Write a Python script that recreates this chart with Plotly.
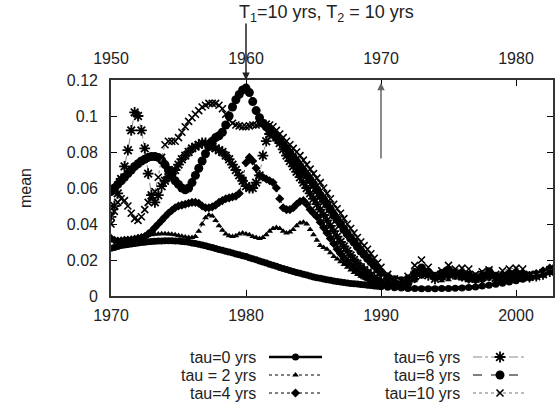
import plotly.graph_objects as go

# ---------------- data ----------------
years = [1970 + 0.25 * i for i in range(81)] + [1990.5 + 0.5 * i for i in range(26)]

tau0 = [0.0265, 0.027, 0.0275, 0.028, 0.0283, 0.0286, 0.0289, 0.0292, 0.0295, 0.0297, 0.0299, 0.0301,
        0.0303, 0.0304, 0.0305, 0.0306, 0.0307, 0.0307, 0.0307, 0.0306, 0.0305, 0.0303, 0.0301, 0.0298,
        0.0295, 0.0291, 0.0287, 0.0283, 0.0279, 0.0274, 0.0269, 0.0264, 0.0259, 0.0254, 0.0249, 0.0244,
        0.0239, 0.0234, 0.0229, 0.0224, 0.0219, 0.0213, 0.0207, 0.0201, 0.0195, 0.0189, 0.0183, 0.0177,
        0.0171, 0.0165, 0.0159, 0.0153, 0.0147, 0.0141, 0.0136, 0.0131, 0.0126, 0.0121, 0.0116, 0.0111,
        0.0106, 0.0102, 0.0098, 0.0094, 0.0090, 0.0087, 0.0084, 0.0081, 0.0078, 0.0075, 0.0072, 0.0070,
        0.0068, 0.0066, 0.0064, 0.0062, 0.0060, 0.0058, 0.0056, 0.0054, 0.0052,
        0.0049, 0.0046, 0.0044, 0.0042, 0.0041, 0.0040, 0.0040, 0.0040, 0.0041, 0.0042, 0.0043, 0.0045,
        0.0047, 0.0050, 0.0055, 0.0060, 0.0065, 0.0071, 0.0078, 0.0085, 0.0093, 0.0103, 0.0115, 0.0127,
        0.0140, 0.0155, 0.0168]

tau2 = [0.031, 0.031, 0.0312, 0.0315, 0.0318, 0.032, 0.0322, 0.0325, 0.0328, 0.033, 0.0333, 0.0336,
        0.034, 0.0343, 0.0345, 0.0346, 0.0346, 0.0345, 0.0343, 0.034, 0.0336, 0.0332, 0.0328, 0.0325,
        0.0325, 0.033, 0.036, 0.040, 0.0435, 0.045, 0.0445, 0.042, 0.039, 0.0365, 0.0345, 0.0335,
        0.033, 0.0335, 0.0345, 0.035, 0.0345, 0.034, 0.033, 0.0325, 0.032, 0.0325, 0.034, 0.036,
        0.0375, 0.038, 0.0375, 0.036, 0.035, 0.0355, 0.037, 0.039, 0.0405, 0.041, 0.040, 0.037,
        0.034, 0.031, 0.028, 0.027, 0.026, 0.024, 0.022, 0.0205, 0.019, 0.0175, 0.016, 0.0145,
        0.013, 0.012, 0.011, 0.010, 0.009, 0.0085, 0.008, 0.0077, 0.0075,
        0.0068, 0.0064, 0.0061, 0.0065, 0.0085, 0.0105, 0.011, 0.0095, 0.0085, 0.009, 0.010, 0.0095,
        0.0085, 0.0082, 0.0085, 0.0095, 0.0092, 0.0085, 0.0085, 0.009, 0.0095, 0.0105, 0.0115, 0.013,
        0.0145, 0.016]

tau4 = [0.032, 0.031, 0.0305, 0.0305, 0.031, 0.031, 0.031, 0.0315, 0.032, 0.0325, 0.033, 0.0345,
        0.036, 0.038, 0.040, 0.042, 0.044, 0.046, 0.0475, 0.049, 0.050, 0.0505, 0.051, 0.0515,
        0.052, 0.052, 0.0515, 0.050, 0.049, 0.049, 0.0495, 0.0505, 0.052, 0.053, 0.054, 0.0545,
        0.055, 0.0555, 0.057, 0.065, 0.074, 0.077, 0.075, 0.071, 0.067, 0.066, 0.065, 0.064,
        0.063, 0.060, 0.054, 0.049, 0.048, 0.048, 0.049, 0.051, 0.0525, 0.053, 0.051, 0.048,
        0.046, 0.044, 0.041, 0.038, 0.035, 0.032, 0.029, 0.026, 0.0235, 0.021, 0.019, 0.017,
        0.015, 0.0135, 0.012, 0.011, 0.010, 0.0093, 0.0087, 0.0082, 0.0078,
        0.007, 0.0065, 0.0062, 0.007, 0.0095, 0.012, 0.0125, 0.0105, 0.010, 0.011, 0.012, 0.011,
        0.0095, 0.009, 0.0095, 0.0105, 0.0105, 0.0095, 0.0095, 0.010, 0.0105, 0.0115, 0.0125, 0.014,
        0.0155, 0.017]

tau6 = [0.044, 0.050, 0.057, 0.065, 0.072, 0.081, 0.092, 0.102, 0.100, 0.092, 0.082, 0.068,
        0.056, 0.052, 0.056, 0.061, 0.064, 0.066, 0.068, 0.070, 0.073, 0.076, 0.078, 0.080,
        0.082, 0.083, 0.084, 0.085, 0.085, 0.084, 0.083, 0.082, 0.081, 0.080, 0.078, 0.076,
        0.073, 0.070, 0.067, 0.064, 0.061, 0.060, 0.060, 0.063, 0.067, 0.078, 0.086, 0.090,
        0.090, 0.088, 0.085, 0.0815, 0.078, 0.075, 0.072, 0.069, 0.066, 0.063, 0.060, 0.057,
        0.054, 0.051, 0.048, 0.045, 0.042, 0.039, 0.036, 0.033, 0.030, 0.0275, 0.025, 0.0225,
        0.020, 0.018, 0.016, 0.0145, 0.013, 0.0115, 0.010, 0.009, 0.0082,
        0.0075, 0.007, 0.0068, 0.008, 0.011, 0.013, 0.0115, 0.0095, 0.011, 0.013, 0.012, 0.011,
        0.010, 0.0095, 0.0105, 0.012, 0.010, 0.010, 0.011, 0.0115, 0.011, 0.0105, 0.011, 0.012,
        0.0135, 0.015]

tau8 = [0.058, 0.060, 0.062, 0.064, 0.066, 0.068, 0.070, 0.072, 0.0735, 0.075, 0.076, 0.077,
        0.0775, 0.0775, 0.077, 0.0755, 0.073, 0.070, 0.067, 0.064, 0.062, 0.060, 0.059, 0.060,
        0.063, 0.067, 0.071, 0.075, 0.079, 0.083, 0.086, 0.088, 0.089, 0.091, 0.095, 0.100,
        0.105, 0.109, 0.112, 0.1145, 0.1155, 0.113, 0.108, 0.103, 0.099, 0.096, 0.094, 0.092,
        0.090, 0.088, 0.086, 0.084, 0.082, 0.0795, 0.077, 0.0745, 0.072, 0.0695, 0.067, 0.0645,
        0.062, 0.059, 0.056, 0.0535, 0.051, 0.048, 0.045, 0.0425, 0.040, 0.037, 0.0345, 0.032,
        0.030, 0.0275, 0.025, 0.023, 0.021, 0.019, 0.017, 0.015, 0.013,
        0.0105, 0.009, 0.0085, 0.0095, 0.013, 0.0155, 0.013, 0.011, 0.0125, 0.0145, 0.013, 0.0125,
        0.0115, 0.0105, 0.012, 0.0135, 0.011, 0.011, 0.012, 0.0125, 0.012, 0.011, 0.0115, 0.0125,
        0.014, 0.0155]

tau10 = [0.040, 0.047, 0.052, 0.054, 0.053, 0.050, 0.046, 0.043, 0.042, 0.044, 0.048, 0.052,
         0.055, 0.058, 0.066, 0.077, 0.084, 0.086, 0.086, 0.086, 0.088, 0.091, 0.094, 0.097,
         0.099, 0.101, 0.103, 0.105, 0.106, 0.107, 0.107, 0.107, 0.106, 0.104, 0.101, 0.098,
         0.096, 0.095, 0.0945, 0.094, 0.094, 0.0945, 0.095, 0.095, 0.0955, 0.096, 0.0955, 0.095,
         0.094, 0.092, 0.090, 0.088, 0.086, 0.084, 0.082, 0.080, 0.078, 0.0755, 0.073, 0.0705,
         0.068, 0.0655, 0.063, 0.060, 0.057, 0.054, 0.051, 0.0485, 0.046, 0.043, 0.040, 0.0375,
         0.035, 0.0325, 0.030, 0.028, 0.026, 0.0235, 0.021, 0.0185, 0.016,
         0.012, 0.0095, 0.0085, 0.011, 0.017, 0.020, 0.016, 0.012, 0.014, 0.017, 0.015, 0.0155,
         0.015, 0.012, 0.0135, 0.0145, 0.012, 0.014, 0.015, 0.0155, 0.015, 0.012, 0.012, 0.013,
         0.0145, 0.016]

bottom_ticks = [1970, 1980, 1990, 2000]
top_ticks = [1950, 1960, 1970, 1980]
y_ticks = [0, 0.02, 0.04, 0.06, 0.08, 0.1, 0.12]
labels = ["tau=0 yrs", "tau = 2 yrs", "tau=4 yrs", "tau=6 yrs", "tau=8 yrs", "tau=10 yrs"]

# ---------------- styles ----------------
styles = [
    dict(series=tau0, line=dict(color="black", width=4, dash="solid"),
         marker=dict(symbol="circle", size=7, color="black")),
    dict(series=tau2, line=dict(color="black", width=1, dash="dot"),
         marker=dict(symbol="triangle-up", size=6, color="black")),
    dict(series=tau4, line=dict(color="black", width=1, dash="dot"),
         marker=dict(symbol="diamond", size=7, color="black")),
    dict(series=tau6, line=dict(color="#888888", width=1, dash="dashdot"),
         marker=dict(symbol="asterisk-open", size=9, color="black", line=dict(width=1.8, color="black"))),
    dict(series=tau8, line=dict(color="black", width=1, dash="dash"),
         marker=dict(symbol="circle", size=9, color="black")),
    dict(series=tau10, line=dict(color="#777777", width=1, dash="dot"),
         marker=dict(symbol="x-thin-open", size=7, color="black", line=dict(width=1.6, color="black"))),
]

W, H = 555, 410
L, R, T, B = 111, 553, 80, 296
FS = 16

fig = go.Figure()

for st, lab in zip(styles, labels):
    fig.add_trace(go.Scatter(x=years, y=st["series"], mode="lines+markers", name=lab,
                             line=st["line"], marker=st["marker"], showlegend=False,
                             xaxis="x", yaxis="y"))

# dummy trace on top axis so it renders
fig.add_trace(go.Scatter(x=[1950], y=[None], xaxis="x2", yaxis="y", showlegend=False, hoverinfo="skip"))

# manual legend (pixel coordinate overlay axes)
rows = [357, 375, 393]
cols = [(258, 269, 322), (462, 473, 527)]
for i, (st, lab) in enumerate(zip(styles, labels)):
    c = cols[i // 3]
    ry = rows[i % 3]
    fig.add_trace(go.Scatter(x=[c[1], (c[1] + c[2]) / 2, c[2]], y=[ry, ry, ry], mode="lines",
                             line=dict(color=st["line"]["color"], width=min(st["line"]["width"], 2.5),
                                       dash=st["line"]["dash"]),
                             xaxis="x3", yaxis="y3", showlegend=False, hoverinfo="skip"))
    fig.add_trace(go.Scatter(x=[(c[1] + c[2]) / 2], y=[ry], mode="markers", marker=st["marker"],
                             xaxis="x3", yaxis="y3", showlegend=False, hoverinfo="skip", cliponaxis=False))
    fig.add_annotation(x=c[0], y=ry, xref="x3", yref="y3", text=lab, showarrow=False,
                       xanchor="right", yanchor="middle", font=dict(size=FS, color="#222"))

tickfont = dict(family="Liberation Sans, Arial, sans-serif", size=FS, color="#222")
fig.update_layout(
    width=W, height=H, margin=dict(l=0, r=0, t=0, b=0),
    paper_bgcolor="white", plot_bgcolor="rgba(0,0,0,0)",
    font=dict(family="Liberation Sans, Arial, sans-serif", size=FS, color="#222"),
    xaxis=dict(domain=[L / W, R / W], range=[1970, 1970 + (R - L) / 13.5], tickvals=bottom_ticks,
               ticks="inside", ticklen=6, tickwidth=1.2, tickcolor="black",
               showline=True, linecolor="#333", linewidth=1.6, mirror=True,
               showgrid=False, zeroline=False, tickfont=tickfont, ticklabelstandoff=4, automargin=False),
    xaxis2=dict(overlaying="x", side="top", range=[1950, 1950 + (R - L) / 13.5], tickvals=top_ticks,
                ticks="inside", ticklen=6, tickwidth=1.2, tickcolor="black",
                showline=False, showgrid=False, zeroline=False, tickfont=tickfont,
                ticklabelstandoff=12, automargin=False),
    yaxis=dict(domain=[(H - B) / H, (H - T) / H], range=[0, 0.12], tickvals=y_ticks,
               ticks="inside", ticklen=6, tickwidth=1.2, tickcolor="black",
               showline=True, linecolor="#333", linewidth=1.6, mirror="ticks",
               showgrid=False, zeroline=False, tickfont=tickfont, ticklabelstandoff=8, automargin=False),
    xaxis3=dict(domain=[0, 1], range=[0, W], visible=False, fixedrange=True),
    yaxis3=dict(domain=[0, 1], range=[H, 0], visible=False, fixedrange=True),
)

# y axis title
fig.add_annotation(x=25, y=188, xref="x3", yref="y3", text="mean", textangle=-90, showarrow=False,
                   font=dict(size=FS, color="#222"))
# top label
fig.add_annotation(x=237, y=13, xref="x3", yref="y3",
                   text="T<sub>1</sub>=10 yrs, T<sub>2</sub> = 10 yrs", showarrow=False,
                   xanchor="left", yanchor="middle", font=dict(size=18, color="#222"))
# down arrow at 1980
fig.add_annotation(x=1980, y=0.12, xref="x", yref="y", ax=1980, ay=0.12 + 58 / 1800,
                   axref="x", ayref="y", text="", showarrow=True, arrowhead=2, arrowsize=1,
                   arrowwidth=1.5, arrowcolor="#222", standoff=0)
# up arrow at 1990
fig.add_annotation(x=1990, y=0.1185, xref="x", yref="y", ax=1990, ay=0.0755,
                   axref="x", ayref="y", text="", showarrow=True, arrowhead=2, arrowsize=1,
                   arrowwidth=1.5, arrowcolor="#666", standoff=0)

fig.write_html("out.html")
